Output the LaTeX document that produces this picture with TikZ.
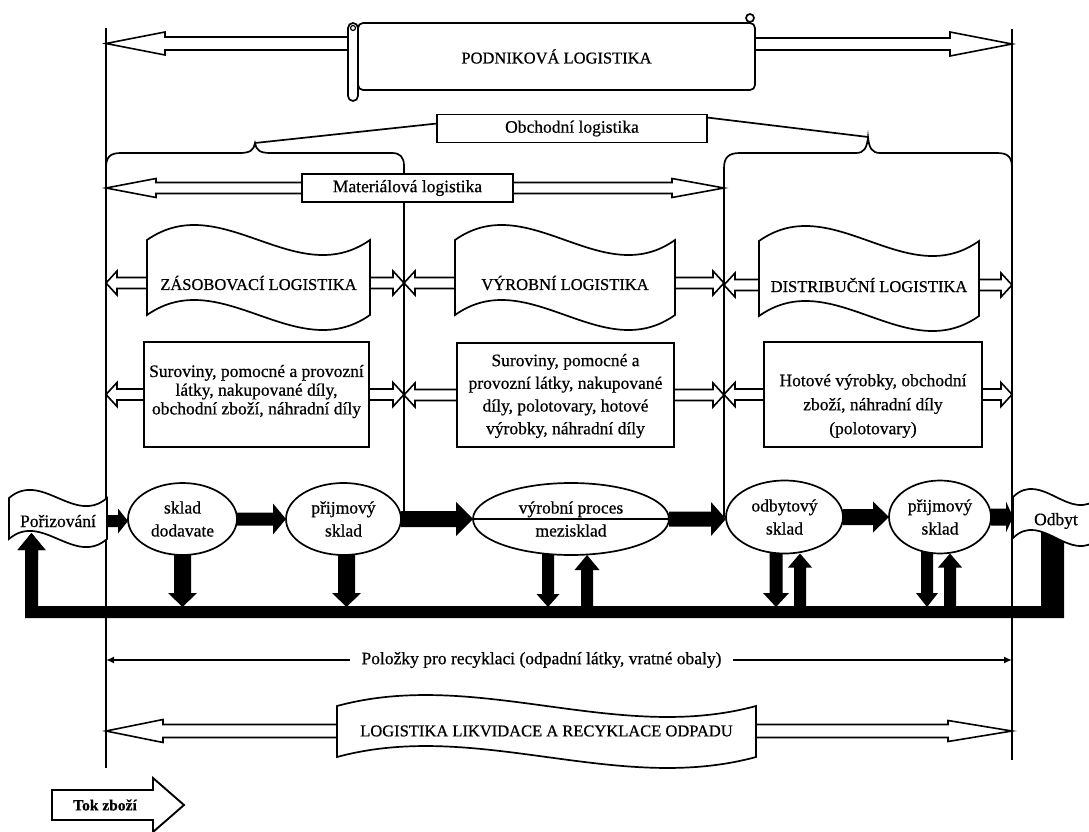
\documentclass[tikz,border=0pt]{standalone}
\usepackage{fontspec}
\setmainfont{Liberation Serif}[FakeBold=0.6]
\usetikzlibrary{arrows.meta,shapes.geometric,calc}

\tikzset{
  every node/.style={inner sep=0pt, outer sep=0pt},
  txt/.style={font=\fontsize{17.5}{21}\selectfont, align=center},
  caps/.style={font=\fontsize{16.5}{20}\selectfont, align=center},
  frame/.style={draw, line width=1.7pt, fill=white},
  rule/.style={line width=2pt},
  brace/.style={line width=1.7pt},
  oar/.style={draw, line width=1.6pt, fill=white, line join=miter},
  blk/.style={fill=black},
  ell/.style={ellipse, draw, line width=1.7pt, fill=white, align=center,
              font=\fontsize{17.5}{23}\selectfont},
}

% block arrow polygon: [style]{from}{tip}{shaft half width}{head half width}{head length}
\newcommand\blockarrow[6][]{%
  \path[#1] let \p1=(#2), \p2=(#3),
      \n1={veclen(\x2-\x1,\y2-\y1)}, \n2={(\x2-\x1)/\n1}, \n3={(\y2-\y1)/\n1} in
    ({\x1-(#4)*(\n3)},{\y1+(#4)*(\n2)}) --
    ({\x2-(#6)*(\n2)-(#4)*(\n3)},{\y2-(#6)*(\n3)+(#4)*(\n2)}) --
    ({\x2-(#6)*(\n2)-(#5)*(\n3)},{\y2-(#6)*(\n3)+(#5)*(\n2)}) --
    (\x2,\y2) --
    ({\x2-(#6)*(\n2)+(#5)*(\n3)},{\y2-(#6)*(\n3)-(#5)*(\n2)}) --
    ({\x2-(#6)*(\n2)+(#4)*(\n3)},{\y2-(#6)*(\n3)-(#4)*(\n2)}) --
    ({\x1+(#4)*(\n3)},{\y1-(#4)*(\n2)}) -- cycle;}

% wave banner outline: x-left, x-right, y-top, y-bottom, control offset
\newcommand\wavepath[5]{%
  \draw[frame] (#1,#3) .. controls ({#1+(#2-#1)/3},{#3-#5}) and ({#1+2*(#2-#1)/3},{#3+#5}) .. (#2,#3)
    -- (#2,#4) .. controls ({#1+2*(#2-#1)/3},{#4+#5}) and ({#1+(#2-#1)/3},{#4-#5}) .. (#1,#4) -- cycle;}
% banner with its label node
\newcommand\banner[9][caps]{%
  \wavepath{#3}{#4}{#5}{#6}{#7}%
  \node[#1, minimum width={#4-#3}] (#2) at ({(#3+#4)/2},#8) {#9};}

\begin{document}
\begin{tikzpicture}[x=1pt,y=-1pt]
\useasboundingbox (0,0) rectangle (1089,832);
\clip (0,0) rectangle (1089,832);

\coordinate (L) at (106,0);
\coordinate (R) at (1012,0);
\coordinate (M1) at (404,0);
\coordinate (M2) at (724,0);
\coordinate (bartop) at (0,607);
\coordinate (barmid) at (0,612);

% outer frame lines
\draw[rule] (106,28) -- (106,768);
\draw[rule] (1012,29) -- (1012,760);

% braces of the trade logistics
\coordinate (bl) at (255,143);
\coordinate (br) at (868,137);
\draw[brace] (106,168) .. controls (106,157) and (110,153) .. (121,153) -- (240,153)
  .. controls (250,153) and (254,150) .. (bl) .. controls (256,150) and (260,153) .. (270,153)
  -- (392,153) .. controls (400,153) and (404,157) .. (404,166) -- (404,512);
\draw[brace] (724,517) -- (724,168) .. controls (724,157) and (729,153) .. (740,153) -- (856,153)
  .. controls (864,153) and (867,148) .. (br) .. controls (869,148) and (872,153) .. (880,153)
  -- (997,153) .. controls (1008,153) and (1012,157) .. (1012,168);

\node[frame, txt, minimum width=270, minimum height=28] (obch) at (572,128.5) {Obchodní logistika};
\draw[brace] ($(obch.west)+(0,-5)$) -- (bl);
\draw[brace] ($(obch.east)+(0,-11)$) -- (br);

% scroll of the company logistics
\coordinate (podL) at (348,43.5);
\coordinate (podR) at (755,44);
\blockarrow[oar]{podL}{podL -| L}{6.5}{11.5}{59}
\blockarrow[oar]{podR}{podR -| R}{6}{12}{62}
\node[frame, rounded corners=5pt, minimum width=397, minimum height=67, caps] (pod) at (556.5,56.5) {PODNIKOVÁ LOGISTIKA};
\draw[frame, rounded corners=5pt] (348,23) rectangle (358,101);
\draw[line width=1.2pt] (353,28) circle[radius=2.5];
\draw[frame] (750,18) circle[radius=4];

% material logistics
\node[frame, txt, minimum width=211, minimum height=28] (mat) at (407.5,188) {Materiálová logistika};
\blockarrow[oar]{mat.west}{mat.west -| L}{5.5}{9.5}{50}
\blockarrow[oar]{mat.east}{mat.east -| M2}{5.5}{9.5}{52}

% three logistics banners
\banner{zs}{147}{370}{240}{315}{52}{283}{ZÁSOBOVACÍ LOGISTIKA}
\banner{vy}{455}{675}{240}{315}{52}{283}{VÝROBNÍ LOGISTIKA}
\banner{di}{759}{979}{241}{316}{52}{285}{DISTRIBUČNÍ LOGISTIKA}
\blockarrow[oar]{zs.west}{zs.west -| L}{5.5}{12}{11}
\blockarrow[oar]{zs.east}{zs.east -| M1}{5.5}{12}{11}
\blockarrow[oar]{vy.west}{vy.west -| M1}{5.5}{12}{11}
\blockarrow[oar]{vy.east}{vy.east -| M2}{5.5}{12}{11}
\blockarrow[oar]{di.west}{di.west -| M2}{5.5}{12}{11}
\blockarrow[oar]{di.east}{di.east -| R}{5.5}{12}{11}

% goods boxes
\node[frame, minimum width=225, minimum height=105] (b1) at (256.5,394.5) {};
\node[txt, font=\fontsize{17.5}{18.7}\selectfont] (t1) at (256.5,391.5)
  {Suroviny, pomocné a provozní\\látky, nakupované díly,\\obchodní zboží, náhradní díly};
\node[frame, minimum width=217, minimum height=104] (b2) at (565.5,395) {};
\node[txt, font=\fontsize{17.5}{22.7}\selectfont] (t2) at (565.5,396)
  {Suroviny, pomocné a\\provozní látky, nakupované\\díly, polotovary, hotové\\výrobky, náhradní díly};
\node[frame, minimum width=218, minimum height=105] (b3) at (873,394.5) {};
\node[txt, font=\fontsize{17.5}{24}\selectfont] (t3) at (873,406)
  {Hotové výrobky, obchodní\\zboží, náhradní díly\\(polotovary)};
\blockarrow[oar]{b1.west}{b1.west -| L}{5.5}{12}{11}
\blockarrow[oar]{b1.east}{b1.east -| M1}{5.5}{12}{11}
\blockarrow[oar]{b2.west}{b2.west -| M1}{5.5}{12}{11}
\blockarrow[oar]{b2.east}{b2.east -| M2}{5.5}{12}{11}
\blockarrow[oar]{b3.west}{b3.west -| M2}{5.5}{12}{11}
\blockarrow[oar]{b3.east}{b3.east -| R}{5.5}{12}{11}

% return flow bar
\fill (1041,530) -- (1064,530) -- (1064,618) -- (25,618) -- (25,550) -- (17.5,550)
  -- (31.5,533) -- (45.5,550) -- (38,550) -- (38,606) -- (1041,606) -- cycle;

% warehouses
\path (182.5,519) coordinate (c1) (343.5,519) coordinate (c2) (571,519) coordinate (c3)
      (784.5,517) coordinate (c4) (940,517) coordinate (c5);
\coordinate (d2) at ($(c2)+(3,0)$);
\coordinate (d3) at ($(c3)+(-23,0)$);
\coordinate (d4) at ($(c4)+(-8.5,0)$);
\coordinate (d5) at ($(c5)+(-13,0)$);
\blockarrow[blk]{c1}{c1 |- bartop}{8.5}{14.5}{14}
\blockarrow[blk]{d2}{d2 |- bartop}{8.5}{14.5}{14}
\blockarrow[blk]{d3}{d3 |- bartop}{6}{11.5}{13}
\blockarrow[blk]{d4}{d4 |- bartop}{6.5}{13}{14}
\blockarrow[blk]{d5}{d5 |- bartop}{6}{11}{14}

\node[ell, minimum width=109, minimum height=72] (e1) at (c1) {sklad\\dodavate};
\node[ell, minimum width=115, minimum height=72] (e2) at (c2) {přijmový\\sklad};
\node[ell, minimum width=196, minimum height=72] (e3) at (c3) {výrobní proces\\mezisklad};
\draw[line width=1.5pt] (e3.west) -- (e3.east);
\node[ell, minimum width=117, minimum height=73] (e4) at (c4) {odbytový\\sklad};
\node[ell, minimum width=102, minimum height=73] (e5) at (c5) {přijmový\\sklad};

\coordinate (u3) at ($(e3.south)+(16,0)$);
\coordinate (u4) at ($(e4.south)+(15.5,0)$);
\coordinate (u5) at ($(e5.south)+(10,0)$);
\blockarrow[blk]{u3 |- barmid}{u3}{6}{12.5}{15}
\blockarrow[blk]{u4 |- barmid}{u4}{6}{12}{14}
\blockarrow[blk]{u5 |- barmid}{u5}{6}{12}{14}

% purchase and sales banners
\banner[txt]{pz}{9}{107}{498}{539}{28}{521}{Pořizování}
\banner[txt]{ob}{1013}{1099}{497}{538}{28}{521}{Odbyt}
\fill (25,560) -- (25,550) -- (17.5,550) -- (31.5,533) -- (45.5,550) -- (38,550) -- (38,560) -- cycle;

% goods flow
\blockarrow[blk]{pz.east}{pz.east -| e1.west}{6}{12.5}{10}
\blockarrow[blk]{e1.east}{e2.west}{6.5}{15.5}{13}
\blockarrow[blk]{e2.east}{e3.west}{8}{17}{17}
\blockarrow[blk]{e3.east}{e3.east -| e4.west}{7.5}{17}{15}
\blockarrow[blk]{e4.east}{e5.west}{8}{15.5}{16}
\blockarrow[blk]{e5.east}{e5.east -| ob.west}{8.5}{15.5}{7}

% recycling items
\coordinate (polc) at (541.5,660);
\draw[line width=2.2pt, {Latex[length=8pt,width=7pt]}-{Latex[length=8pt,width=7pt]}] (L |- polc) -- (R |- polc);
\node[txt, fill=white, inner xsep=12pt, inner ysep=3pt] (pol) at (polc)
  {Položky pro recyklaci (odpadní látky, vratné obaly)};

% waste disposal and recycling logistics
\banner{lik}{337}{756}{706}{757}{38}{731}{LOGISTIKA LIKVIDACE A RECYKLACE ODPADU}
\blockarrow[oar]{lik.west}{lik.west -| L}{6.5}{11.5}{57}
\blockarrow[oar]{lik.east}{lik.east -| R}{6.5}{10.5}{64}

% legend
\coordinate (tokA) at (52,805);
\coordinate (tokB) at (184,805);
\blockarrow[oar, line width=1.9pt]{tokA}{tokB}{15}{27}{31}
\node[font=\bfseries\fontsize{15.5}{18}\selectfont] (tok) at (105,805) {Tok zboží};
\end{tikzpicture}
\end{document}
